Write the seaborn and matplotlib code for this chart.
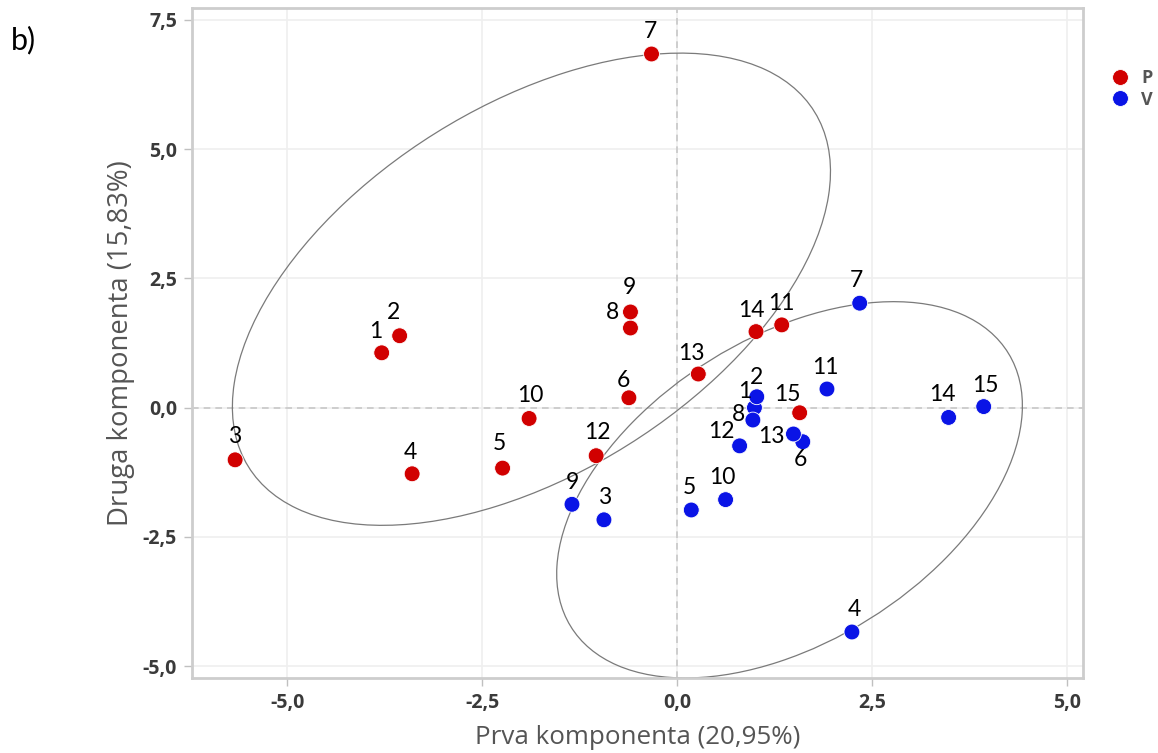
import numpy as np
import pandas as pd
import matplotlib
matplotlib.use("Agg")
import matplotlib.pyplot as plt
import seaborn as sns
from matplotlib.patches import Ellipse

# PCA scores (sample 1..15 in each group)
sample_ids = list(range(1, 16))
pc1_p = [-3.79, -3.56, -5.67, -3.40, -2.24, -0.62, -0.33, -0.60, -0.60, -1.90, 1.34, -1.04, 0.27, 1.01, 1.57]
pc2_p = [1.06, 1.39, -1.01, -1.28, -1.17, 0.19, 6.84, 1.54, 1.85, -0.21, 1.60, -0.93, 0.65, 1.47, -0.10]
pc1_v = [0.99, 1.02, -0.94, 2.24, 0.18, 1.61, 2.34, 0.97, -1.35, 0.62, 1.92, 0.80, 1.49, 3.48, 3.93]
pc2_v = [0.00, 0.21, -2.17, -4.34, -1.98, -0.66, 2.02, -0.24, -1.87, -1.78, 0.36, -0.74, -0.51, -0.19, 0.02]

x_ticks = [-5.0, -2.5, 0.0, 2.5, 5.0]
y_ticks = [-5.0, -2.5, 0.0, 2.5, 5.0, 7.5]

df = pd.DataFrame({
    "pc1": pc1_p + pc1_v,
    "pc2": pc2_p + pc2_v,
    "grupa": ["P"] * 15 + ["V"] * 15,
    "uzorak": sample_ids * 2,
})

# label offsets in pixels (dx, dy with y pointing down), per group/sample
label_offsets = {
    "P": {1: (-6, -21), 2: (-6, -23), 3: (0, -23), 4: (-2, -21), 5: (-3, -25),
          6: (-5, -17), 7: (-1, -22), 8: (-18, -15), 9: (-1, -24), 10: (1, -23),
          11: (0, -21), 12: (1, -23), 13: (-7, -21), 14: (-5, -21), 15: (-12, -18)},
    "V": {1: (-10, -16), 2: (0, -19), 3: (1, -22), 4: (2, -22), 5: (-2, -22),
          6: (-2, 18), 7: (-3, -23), 8: (-14, -6), 9: (0, -22), 10: (-3, -22),
          11: (-2, -22), 12: (-18, -14), 13: (-22, 3), 14: (-6, -23), 15: (2, -21)},
}

# hand drawn group outlines: centre, semi axes, angle (deg)
outlines = [((-1.87, 2.29), 5.2, 2.92, 54.7), ((1.44, -1.59), 4.05, 2.40, 57.0)]

colors = {"P": "#d10000", "V": "#0a14e6"}

sns.set_theme(style="whitegrid")
plt.rcParams["font.family"] = ["Open Sans", "DejaVu Sans"]

fig = plt.figure(figsize=(11.58, 7.53), dpi=100)
ax = fig.add_axes([0.166, 0.0996, 0.769, 0.8898])

ax.axhline(0, color="#c8c8c8", lw=1.2, ls=(0, (4, 3)), zorder=1)
ax.axvline(0, color="#c8c8c8", lw=1.2, ls=(0, (4, 3)), zorder=1)

for (cx, cy), a, b, ang in outlines:
    ax.add_patch(Ellipse((cx, cy), 2 * a, 2 * b, angle=ang, fill=False,
                         edgecolor="#7a7a7a", lw=0.9, zorder=2))

sns.scatterplot(data=df, x="pc1", y="pc2", hue="grupa", palette=colors,
                s=130, edgecolor="white", linewidth=0.6, ax=ax, zorder=3)

for _, r in df.iterrows():
    dx, dy = label_offsets[r["grupa"]][r["uzorak"]]
    ax.annotate(str(r["uzorak"]), (r["pc1"], r["pc2"]), xytext=(dx, -dy),
                textcoords="offset pixels", ha="center", va="center",
                fontsize=16.5, color="black", family=["Lato", "DejaVu Sans"], zorder=4)

ax.set_xlim(-6.22, 5.2)
ax.set_ylim(-5.23, 7.73)
ax.set_xticks(x_ticks)
ax.set_yticks(y_ticks)
ax.set_xticklabels([f"{t:.1f}".replace(".", ",") for t in x_ticks])
ax.set_yticklabels([f"{t:.1f}".replace(".", ",") for t in y_ticks])
ax.tick_params(axis="both", which="both", length=6, width=1, color="#c0c0c0",
               labelsize=14, labelcolor="#3a3a3a", left=True, bottom=True, pad=5)
for lab in ax.get_xticklabels() + ax.get_yticklabels():
    lab.set_fontweight("bold")

ax.grid(True, color="#efefef", lw=1.2)
for sp in ax.spines.values():
    sp.set_color("#cdcdcd")
    sp.set_linewidth(2.0)

ax.set_xlabel("Prva komponenta (20,95%)", fontsize=18.7, color="#555555")
ax.set_ylabel("Druga komponenta (15,83%)", fontsize=19.8, color="#555555")
ax.xaxis.set_label_coords(0.5, -0.07)
ax.yaxis.set_label_coords(-0.064, 0.5)

sns.move_legend(ax, "upper left", bbox_to_anchor=(1.003, 0.933), frameon=False,
                title=None, fontsize=13, handletextpad=0.2, labelspacing=0.2,
                markerscale=1.0)
for t in ax.get_legend().get_texts():
    t.set_color("#555555")
    t.set_fontweight("bold")

fig.text(0.009, 0.934, "b)", fontsize=22, family=["Lato", "DejaVu Sans"], color="black")

fig.savefig("out.png", dpi=100)
